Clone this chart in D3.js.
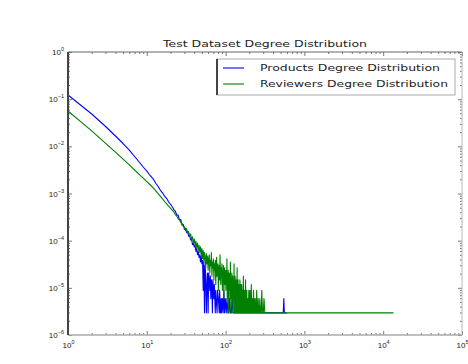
<!DOCTYPE html>
<html>
<head>
<meta charset="utf-8">
<script src="https://cdn.jsdelivr.net/npm/d3@7"></script>
<style>
  html, body { margin: 0; padding: 0; background: #fff; }
  svg { display: block; font-family: "DejaVu Sans", sans-serif; }
</style>
</head>
<body>
<svg id="chart" width="468" height="364"></svg>
<script>
// Degree histograms: distinct degree values and how many nodes have each.
const totalNodes = 339000;

const productDegrees = [
  1,2,3,4,5,6,7,8,9,10,11,12,13,14,15,16,17,18,19,20,
  21,22,23,24,25,26,27,28,29,30,31,32,33,34,35,36,37,38,39,40,
  41,42,43,44,45,46,47,48,49,50,51,52,53,54,55,56,57,58,59,60,
  61,62,63,64,65,66,67,68,69,70,71,72,74,75,76,78,79,81,83,84,
  86,88,89,91,93,95,97,99,102,104,107,110,112,115,118,121,124,128,133,139,
  146,158,171,189,214,243,276,318,367,431,539,548,556,597
];
const productCounts = [
  41500,16440,8930,5610,3890,2830,2065,1578,1236,1016,817,695,560,470,389,342,290,262,221,200,
  178,155,143,119,118,92,95,72,75,59,62,50,53,42,43,35,37,28,30,25,
  27,20,23,17,20,15,17,12,16,11,13,3,12,1,10,6,1,4,7,1,
  7,5,3,6,2,5,4,1,5,3,2,4,1,3,2,1,3,2,1,3,
  1,2,1,2,1,3,1,2,1,2,1,1,2,1,1,2,1,1,1,1,
  1,1,1,1,1,1,1,1,1,1,1,2,1,1
];

const reviewerDegrees = [
  1,2,3,4,5,6,7,8,9,10,11,12,13,14,15,16,17,18,19,20,
  21,22,23,24,25,26,27,28,29,30,31,32,33,34,35,36,37,38,39,40,
  41,42,43,44,45,46,47,48,49,50,51,52,53,54,55,56,57,58,59,60,
  61,62,63,64,65,66,67,68,69,70,71,72,73,74,75,76,77,78,79,80,
  81,82,83,84,85,86,87,88,89,90,91,92,93,94,95,96,97,98,99,100,
  101,102,103,104,105,106,107,108,109,110,111,112,113,114,115,116,117,118,119,120,
  121,122,123,124,125,126,127,128,129,130,131,132,133,134,135,136,137,138,139,140,
  141,142,143,144,145,146,147,148,149,150,152,153,154,155,156,157,158,159,160,162,
  163,164,166,167,168,170,171,173,174,176,177,179,181,182,184,186,187,189,191,193,
  195,197,199,200,202,204,206,207,209,212,214,216,219,221,224,226,229,232,235,238,
  241,245,248,252,256,259,263,268,272,277,283,288,294,301,307,315,328,349,372,405,
  447,503,586,712,905,1280,2150,4030,13500
];
const reviewerCounts = [
  19000,7230,3930,2550,1810,1370,1067,865,716,607,520,453,387,333,291,255,224,202,181,164,
  150,138,121,113,99,94,82,79,68,67,56,61,49,53,42,47,36,41,30,37,
  27,33,24,30,21,27,19,25,16,23,14,21,12,19,15,9,18,11,16,8,
  14,17,7,13,10,19,6,12,9,14,5,11,8,13,4,10,15,6,9,11,
  3,8,10,5,17,7,4,9,6,11,3,8,5,10,2,7,9,4,6,8,
  3,7,5,14,2,6,4,8,1,5,7,3,6,2,12,4,1,5,3,7,
  2,4,6,1,3,5,2,11,1,4,3,6,1,2,5,3,1,4,2,9,
  1,3,2,5,1,2,4,1,3,2,5,1,2,4,1,3,2,1,4,2,
  1,3,1,2,6,1,2,3,1,2,1,5,1,2,1,3,1,2,1,2,
  1,3,1,2,1,3,1,2,1,4,1,2,1,2,1,3,1,2,1,1,
  2,1,3,1,1,2,1,1,2,1,1,3,1,1,2,1,1,1,1,1,
  1,1,1,1,1,1,1,1,1
];

const seriesNames = ["Products Degree Distribution", "Reviewers Degree Distribution"];
const seriesColors = ["#0000ff", "#008000"];

const xMajor = [1e0, 1e1, 1e2, 1e3, 1e4, 1e5];
const xExponents = ["0", "1", "2", "3", "4", "5"];
const yMajor = [1e0, 1e-1, 1e-2, 1e-3, 1e-4, 1e-5, 1e-6];
const yExponents = ["0", "\u22121", "\u22122", "\u22123", "\u22124", "\u22125", "\u22126"];

const plot = { left: 68, right: 462, top: 52, bottom: 335 };

const svg = d3.select("#chart");

const x = d3.scaleLog().domain([1, 1e5]).range([plot.left, plot.right]);
const y = d3.scaleLog().domain([1e-6, 1]).range([plot.bottom, plot.top]);

// minor tick positions: 2..9 times each power of ten
function minorTicks(lo, hi) {
  const out = [];
  for (let e = lo; e < hi; e++) for (let m = 2; m <= 9; m++) out.push(m * Math.pow(10, e));
  return out;
}
const xMinor = minorTicks(0, 5);
const yMinor = minorTicks(-6, 0);

// curves
const line = d3.line().x(d => x(d[0])).y(d => y(d[1]));
const series = [
  productDegrees.map((k, i) => [k, productCounts[i] / totalNodes]),
  reviewerDegrees.map((k, i) => [k, reviewerCounts[i] / totalNodes])
];
svg.append("clipPath").attr("id", "plotclip").append("rect")
  .attr("x", plot.left).attr("y", plot.top)
  .attr("width", plot.right - plot.left).attr("height", plot.bottom - plot.top);
const curves = svg.append("g").attr("clip-path", "url(#plotclip)");
series.forEach((data, i) => {
  curves.append("path").datum(data)
    .attr("d", line)
    .attr("fill", "none")
    .attr("stroke", seriesColors[i])
    .attr("stroke-width", 1.1)
    .attr("stroke-linejoin", "round");
});

// axes with inward ticks on all four sides
function addAxis(axisFn, scale, pos, values, size) {
  const a = axisFn(scale).tickValues(values).tickSizeInner(-size).tickSizeOuter(0)
    .tickFormat(() => "");
  const g = svg.append("g").attr("transform", pos).call(a);
  g.select(".domain").remove();
  g.selectAll(".tick line").attr("stroke", "#555").attr("stroke-width", 0.8);
  return g;
}
addAxis(d3.axisBottom, x, `translate(0,${plot.bottom})`, xMinor, 2);
addAxis(d3.axisTop, x, `translate(0,${plot.top})`, xMinor, 2);
addAxis(d3.axisLeft, y, `translate(${plot.left},0)`, yMinor, 2);
addAxis(d3.axisRight, y, `translate(${plot.right},0)`, yMinor, 2);
const xb = addAxis(d3.axisBottom, x, `translate(0,${plot.bottom})`, xMajor, 4);
addAxis(d3.axisTop, x, `translate(0,${plot.top})`, xMajor, 4);
const yl = addAxis(d3.axisLeft, y, `translate(${plot.left},0)`, yMajor, 4);
addAxis(d3.axisRight, y, `translate(${plot.right},0)`, yMajor, 4);

// power-of-ten labels with superscript exponents
function powerLabel(textSel, exps) {
  textSel.each(function(d, i) {
    const t = d3.select(this).text(null)
      .attr("font-size", 8).attr("fill", "#222");
    t.append("tspan").text("10");
    t.append("tspan").text(exps[i]).attr("dy", -4).attr("font-size", 5.5);
  });
}
xb.selectAll(".tick text").attr("y", 7).attr("dy", "0.71em").call(powerLabel, xExponents);
yl.selectAll(".tick text").attr("x", -4).attr("dy", "0.32em").attr("text-anchor", "end")
  .call(powerLabel, yExponents);

// frame
svg.append("line").attr("x1", plot.left).attr("x2", plot.right).attr("y1", plot.top).attr("y2", plot.top)
  .attr("stroke", "#666").attr("stroke-width", 1);
svg.append("line").attr("x1", plot.left).attr("x2", plot.right).attr("y1", plot.bottom).attr("y2", plot.bottom)
  .attr("stroke", "#aaa").attr("stroke-width", 1.5);
svg.append("line").attr("x1", plot.right).attr("x2", plot.right).attr("y1", plot.top).attr("y2", plot.bottom)
  .attr("stroke", "#bbb").attr("stroke-width", 1);
svg.append("line").attr("x1", plot.left).attr("x2", plot.left).attr("y1", plot.top).attr("y2", plot.bottom)
  .attr("stroke", "#444").attr("stroke-width", 2);

// title
svg.append("text")
  .attr("x", (plot.left + plot.right) / 2).attr("y", 47)
  .attr("text-anchor", "middle").attr("font-size", 9).attr("fill", "#222")
  .attr("textLength", 204).attr("lengthAdjust", "spacingAndGlyphs")
  .text("Test Dataset Degree Distribution");

// legend
const lg = svg.append("g");
const lx = 217, ly = 59, lw = 238, lh = 36;
lg.append("rect").attr("x", lx).attr("y", ly).attr("width", lw).attr("height", lh)
  .attr("fill", "#fff").attr("stroke", "#aaa").attr("stroke-width", 1);
lg.append("line").attr("x1", lx).attr("x2", lx).attr("y1", ly).attr("y2", ly + lh)
  .attr("stroke", "#444").attr("stroke-width", 2);
const textLens = [180, 188];
seriesNames.forEach((name, i) => {
  const yy = ly + 9 + i * 16;
  lg.append("line").attr("x1", lx + 6).attr("x2", lx + 27).attr("y1", yy).attr("y2", yy)
    .attr("stroke", seriesColors[i]).attr("stroke-width", 1.1);
  lg.append("text").attr("x", lx + 43).attr("y", yy).attr("dy", "0.35em")
    .attr("font-size", 9).attr("fill", "#222")
    .attr("textLength", textLens[i]).attr("lengthAdjust", "spacingAndGlyphs")
    .text(name);
});
</script>
</body>
</html>
